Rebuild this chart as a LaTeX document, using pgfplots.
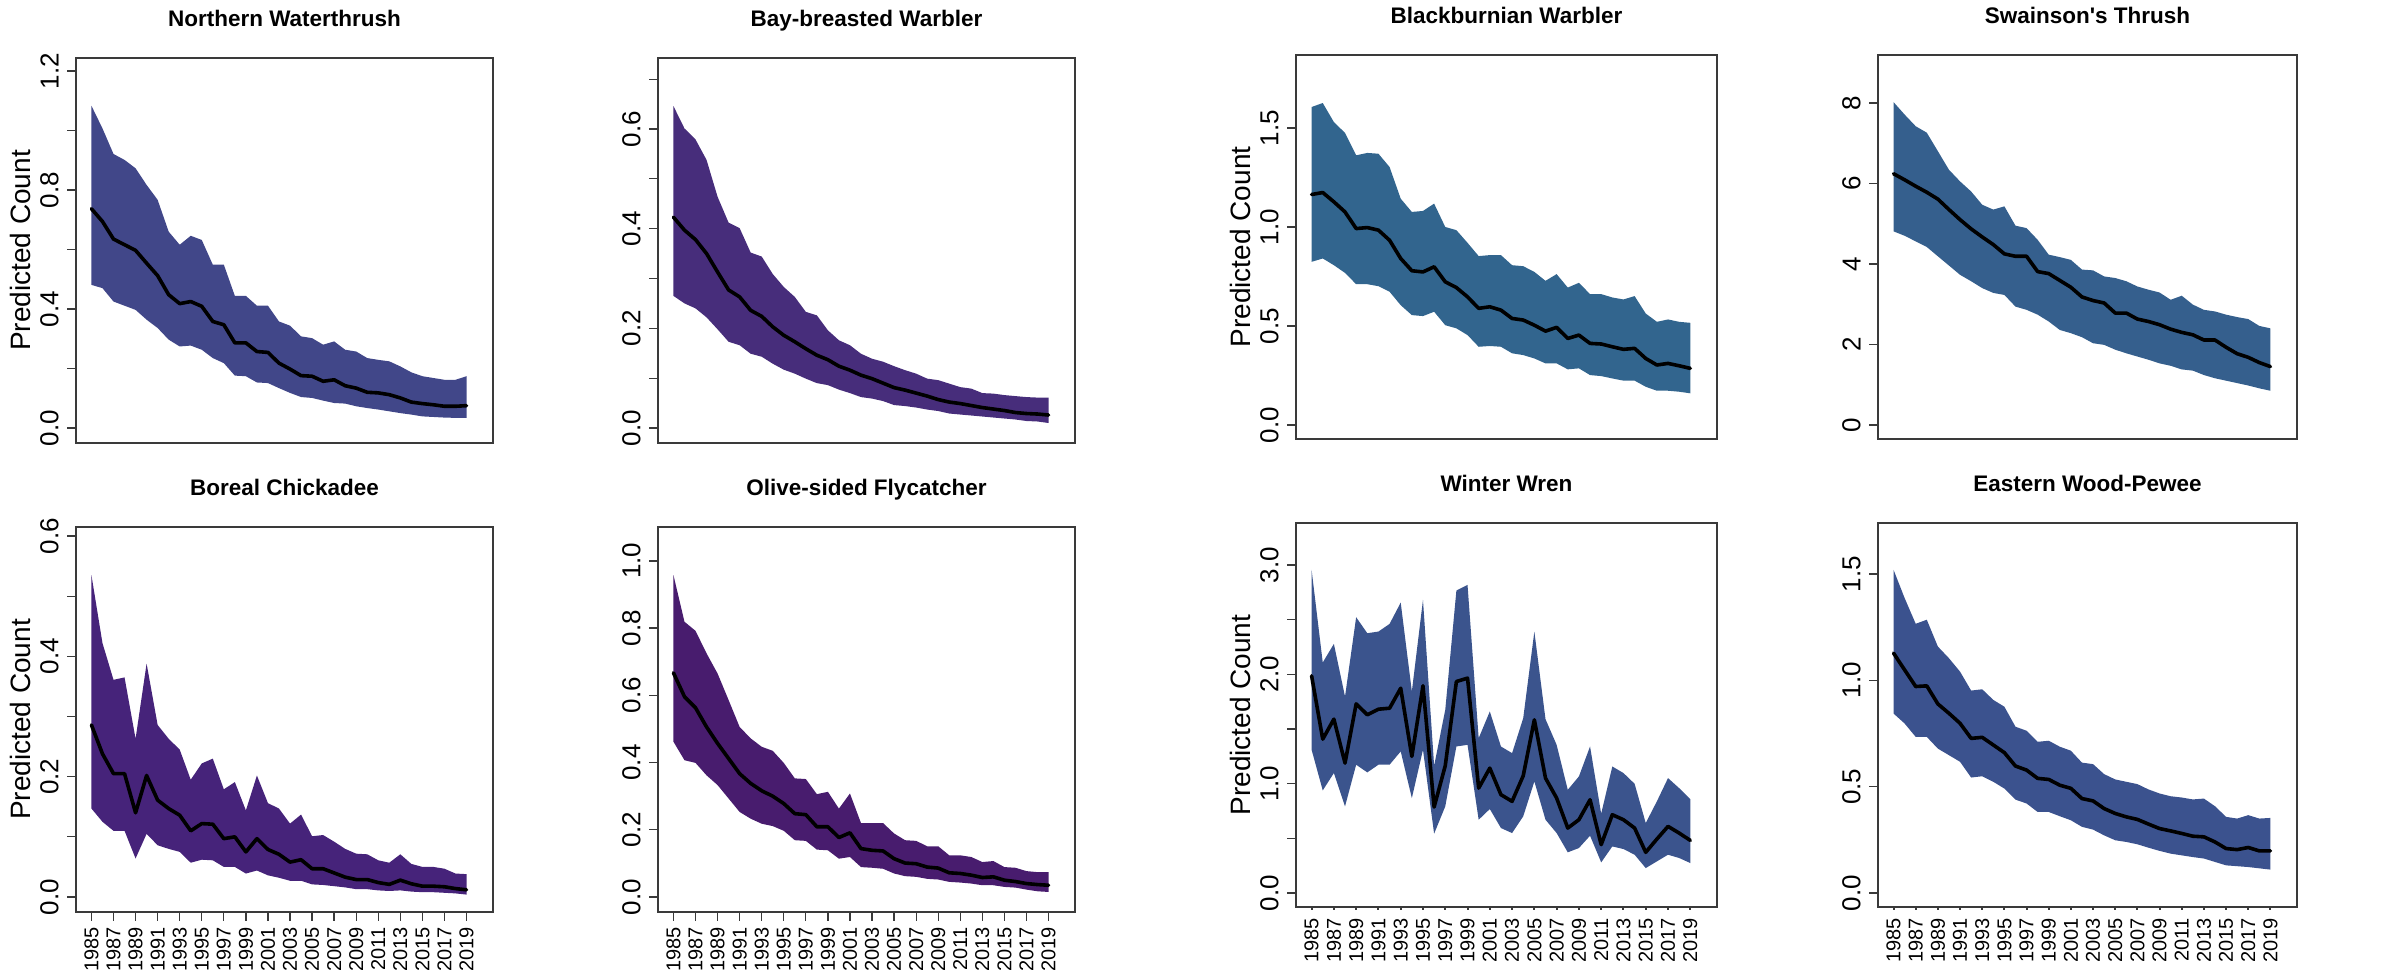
\documentclass[border=0pt]{standalone}
\usepackage{pgfplots}
\pgfplotsset{compat=1.18}
\usepackage{pgfplotstable}
\usepgfplotslibrary{fillbetween}
\usepackage{fontspec}
\setmainfont{Liberation Sans}

\definecolor{c1}{HTML}{414789}
\definecolor{c2}{HTML}{472D7B}
\definecolor{c3}{HTML}{32658E}
\definecolor{c4}{HTML}{355F8D}
\definecolor{c5}{HTML}{46237A}
\definecolor{c6}{HTML}{481C6E}
\definecolor{c7}{HTML}{3B548D}
\definecolor{c8}{HTML}{3B528E}
\definecolor{frame}{HTML}{3A3A3A}

\pgfplotstableread{
yr m lo hi
1985 0.737 0.481 1.083
1986 0.694 0.470 1.007
1987 0.635 0.425 0.921
1988 0.616 0.411 0.901
1989 0.597 0.397 0.873
1990 0.554 0.364 0.817
1991 0.512 0.336 0.767
1992 0.448 0.297 0.660
1993 0.418 0.274 0.616
1994 0.425 0.277 0.646
1995 0.409 0.263 0.632
1996 0.358 0.235 0.549
1997 0.347 0.218 0.549
1998 0.286 0.176 0.444
1999 0.286 0.174 0.444
2000 0.257 0.153 0.411
2001 0.254 0.151 0.411
2002 0.218 0.134 0.358
2003 0.198 0.118 0.344
2004 0.176 0.104 0.308
2005 0.174 0.101 0.302
2006 0.157 0.092 0.280
2007 0.162 0.084 0.291
2008 0.142 0.082 0.263
2009 0.134 0.073 0.257
2010 0.120 0.067 0.235
2011 0.118 0.062 0.229
2012 0.112 0.056 0.224
2013 0.101 0.050 0.207
2014 0.087 0.045 0.187
2015 0.082 0.039 0.174
2016 0.078 0.037 0.168
2017 0.073 0.035 0.162
2018 0.073 0.034 0.162
2019 0.075 0.034 0.174
}\tabA

\pgfplotstableread{
yr m lo hi
1985 0.423 0.265 0.646
1986 0.397 0.250 0.601
1987 0.378 0.240 0.579
1988 0.350 0.222 0.538
1989 0.313 0.198 0.464
1990 0.277 0.173 0.412
1991 0.263 0.166 0.401
1992 0.236 0.149 0.352
1993 0.224 0.143 0.344
1994 0.203 0.129 0.309
1995 0.186 0.117 0.283
1996 0.173 0.109 0.263
1997 0.159 0.099 0.233
1998 0.146 0.090 0.226
1999 0.137 0.086 0.196
2000 0.124 0.077 0.176
2001 0.116 0.070 0.166
2002 0.106 0.062 0.149
2003 0.099 0.059 0.139
2004 0.090 0.054 0.133
2005 0.081 0.046 0.124
2006 0.076 0.044 0.116
2007 0.070 0.041 0.109
2008 0.064 0.037 0.099
2009 0.057 0.034 0.096
2010 0.052 0.029 0.089
2011 0.049 0.027 0.082
2012 0.045 0.025 0.079
2013 0.041 0.023 0.070
2014 0.038 0.021 0.069
2015 0.035 0.019 0.066
2016 0.031 0.017 0.064
2017 0.029 0.014 0.062
2018 0.028 0.013 0.061
2019 0.026 0.010 0.061
}\tabB

\pgfplotstableread{
yr m lo hi
1985 1.164 0.824 1.606
1986 1.174 0.841 1.626
1987 1.127 0.807 1.530
1988 1.076 0.768 1.475
1989 0.992 0.711 1.362
1990 0.997 0.711 1.374
1991 0.984 0.701 1.370
1992 0.933 0.673 1.303
1993 0.841 0.605 1.143
1994 0.779 0.555 1.076
1995 0.773 0.550 1.081
1996 0.799 0.572 1.118
1997 0.723 0.504 1.000
1998 0.694 0.488 0.984
1999 0.647 0.454 0.920
2000 0.589 0.395 0.853
2001 0.597 0.399 0.858
2002 0.580 0.395 0.858
2003 0.538 0.362 0.807
2004 0.530 0.353 0.802
2005 0.504 0.336 0.773
2006 0.474 0.311 0.728
2007 0.493 0.311 0.762
2008 0.437 0.281 0.694
2009 0.454 0.286 0.718
2010 0.412 0.252 0.661
2011 0.409 0.247 0.661
2012 0.395 0.235 0.644
2013 0.382 0.224 0.634
2014 0.387 0.224 0.651
2015 0.336 0.193 0.563
2016 0.303 0.173 0.521
2017 0.311 0.173 0.533
2018 0.299 0.168 0.521
2019 0.286 0.160 0.516
}\tabC

\pgfplotstableread{
yr m lo hi
1985 6.24 4.81 8.02
1986 6.09 4.70 7.71
1987 5.93 4.56 7.42
1988 5.78 4.42 7.26
1989 5.61 4.19 6.80
1990 5.35 3.96 6.34
1991 5.10 3.73 6.05
1992 4.87 3.57 5.80
1993 4.67 3.40 5.47
1994 4.48 3.28 5.35
1995 4.25 3.23 5.43
1996 4.19 2.94 4.95
1997 4.19 2.86 4.89
1998 3.81 2.74 4.60
1999 3.76 2.57 4.23
2000 3.59 2.36 4.17
2001 3.42 2.28 4.10
2002 3.18 2.18 3.86
2003 3.09 2.03 3.84
2004 3.03 1.99 3.69
2005 2.78 1.87 3.65
2006 2.78 1.78 3.57
2007 2.63 1.70 3.44
2008 2.57 1.62 3.36
2009 2.49 1.53 3.29
2010 2.38 1.47 3.11
2011 2.30 1.38 3.21
2012 2.24 1.35 2.99
2013 2.11 1.24 2.86
2014 2.11 1.16 2.82
2015 1.93 1.10 2.74
2016 1.77 1.04 2.68
2017 1.68 0.98 2.63
2018 1.55 0.91 2.46
2019 1.45 0.85 2.40
}\tabD

\pgfplotstableread{
yr m lo hi
1985 0.286 0.147 0.535
1986 0.238 0.125 0.422
1987 0.205 0.110 0.361
1988 0.205 0.110 0.365
1989 0.140 0.064 0.263
1990 0.202 0.105 0.388
1991 0.161 0.086 0.286
1992 0.147 0.080 0.263
1993 0.136 0.075 0.245
1994 0.110 0.057 0.195
1995 0.122 0.062 0.222
1996 0.121 0.061 0.230
1997 0.097 0.050 0.179
1998 0.100 0.050 0.191
1999 0.075 0.039 0.144
2000 0.097 0.044 0.202
2001 0.079 0.036 0.156
2002 0.071 0.032 0.147
2003 0.058 0.027 0.122
2004 0.062 0.027 0.137
2005 0.047 0.021 0.101
2006 0.047 0.020 0.103
2007 0.040 0.018 0.092
2008 0.033 0.016 0.080
2009 0.029 0.013 0.072
2010 0.029 0.013 0.071
2011 0.024 0.011 0.061
2012 0.021 0.010 0.057
2013 0.028 0.011 0.071
2014 0.022 0.009 0.055
2015 0.018 0.008 0.050
2016 0.018 0.008 0.050
2017 0.017 0.007 0.047
2018 0.014 0.006 0.039
2019 0.012 0.004 0.038
}\tabE

\pgfplotstableread{
yr m lo hi
1985 0.667 0.462 0.958
1986 0.596 0.407 0.819
1987 0.563 0.399 0.792
1988 0.506 0.362 0.725
1989 0.457 0.333 0.665
1990 0.412 0.293 0.586
1991 0.367 0.253 0.506
1992 0.338 0.233 0.472
1993 0.316 0.218 0.447
1994 0.300 0.211 0.435
1995 0.278 0.197 0.399
1996 0.248 0.169 0.353
1997 0.245 0.167 0.351
1998 0.209 0.141 0.306
1999 0.209 0.139 0.313
2000 0.177 0.114 0.263
2001 0.191 0.119 0.308
2002 0.144 0.089 0.220
2003 0.139 0.087 0.220
2004 0.137 0.084 0.220
2005 0.114 0.070 0.189
2006 0.101 0.062 0.169
2007 0.099 0.060 0.167
2008 0.089 0.054 0.151
2009 0.086 0.052 0.151
2010 0.072 0.045 0.124
2011 0.070 0.043 0.124
2012 0.065 0.040 0.119
2013 0.058 0.035 0.104
2014 0.060 0.035 0.107
2015 0.050 0.030 0.089
2016 0.046 0.028 0.087
2017 0.040 0.022 0.077
2018 0.037 0.017 0.074
2019 0.035 0.015 0.074
}\tabF

\pgfplotstableread{
yr m lo hi
1985 1.986 1.310 2.955
1986 1.407 0.938 2.108
1987 1.590 1.097 2.278
1988 1.188 0.792 1.797
1989 1.730 1.173 2.522
1990 1.630 1.103 2.376
1991 1.681 1.173 2.391
1992 1.690 1.173 2.461
1993 1.873 1.295 2.656
1994 1.249 0.868 1.843
1995 1.895 1.310 2.680
1996 0.786 0.542 1.164
1997 1.164 0.792 1.675
1998 1.934 1.340 2.766
1999 1.965 1.355 2.818
2000 0.959 0.670 1.416
2001 1.142 0.768 1.660
2002 0.899 0.594 1.340
2003 0.838 0.548 1.279
2004 1.072 0.701 1.599
2005 1.584 1.020 2.391
2006 1.051 0.670 1.590
2007 0.868 0.548 1.355
2008 0.594 0.372 0.944
2009 0.670 0.411 1.066
2010 0.853 0.524 1.340
2011 0.442 0.280 0.725
2012 0.716 0.426 1.157
2013 0.670 0.402 1.097
2014 0.594 0.350 0.999
2015 0.372 0.228 0.640
2016 0.493 0.289 0.838
2017 0.609 0.350 1.051
2018 0.548 0.320 0.959
2019 0.481 0.274 0.859
}\tabG

\pgfplotstableread{
yr m lo hi
1985 1.128 0.844 1.520
1986 1.049 0.797 1.387
1987 0.971 0.734 1.266
1988 0.974 0.734 1.285
1989 0.889 0.679 1.159
1990 0.845 0.648 1.104
1991 0.798 0.617 1.041
1992 0.727 0.543 0.952
1993 0.732 0.549 0.958
1994 0.696 0.523 0.908
1995 0.660 0.491 0.876
1996 0.597 0.439 0.782
1997 0.578 0.421 0.763
1998 0.539 0.381 0.711
1999 0.534 0.381 0.716
2000 0.507 0.361 0.688
2001 0.492 0.342 0.669
2002 0.444 0.311 0.613
2003 0.433 0.298 0.606
2004 0.397 0.271 0.559
2005 0.374 0.248 0.534
2006 0.358 0.240 0.523
2007 0.346 0.229 0.512
2008 0.324 0.213 0.487
2009 0.303 0.198 0.468
2010 0.292 0.185 0.455
2011 0.280 0.177 0.449
2012 0.267 0.169 0.440
2013 0.264 0.162 0.444
2014 0.240 0.146 0.408
2015 0.209 0.130 0.358
2016 0.204 0.126 0.350
2017 0.214 0.122 0.366
2018 0.198 0.116 0.350
2019 0.198 0.110 0.353
}\tabH

\pgfplotsset{
  panel/.style={
    scale only axis,
    xmin=1983.6, xmax=2021.4,
    axis line style={draw=frame, line width=0.65pt},
    tick style={draw=frame, line width=0.65pt},
    tick align=outside,
    major tick length=4.5pt,
    xtick pos=lower, ytick pos=left,
    minor tick num=0,
    xtick=\empty,
    yticklabel style={rotate=90, anchor=south, inner sep=0pt, font=\fontsize{13}{15}\selectfont},
    yticklabel shift=4pt,
    title style={at={(axis description cs:0.5,1)}, anchor=base, yshift=9.5pt, font=\bfseries\fontsize{11.25}{13}\selectfont},
  },
  ylab/.style={
    ylabel={Predicted Count},
    ylabel style={at={(axis description cs:-0.132,0.5)}, anchor=center, inner sep=0pt, font=\fontsize{14}{16}\selectfont},
  },
  years/.style={
    xtick={1985,1987,...,2019},
    xticklabels={1985,1987,1989,1991,1993,1995,1997,1999,2001,2003,2005,2007,2009,2011,2013,2015,2017,2019},
    xticklabel style={rotate=90, anchor=east, inner sep=0pt, font=\fontsize{10}{12}\selectfont},
    xticklabel shift=3pt,
  },
  dotticks/.style={
    xtick style={draw=none},
    xticklabel shift=1pt,
    extra x ticks={1985,1987,...,2019},
    extra x tick labels={},
    extra x tick style={major tick length=1.5pt, xtick style={draw=frame, line width=1pt}},
  },
  band/.style={draw=none, forget plot},
  mean/.style={black, line width=1.8pt, line join=round, line cap=round},
}

\begin{document}
\begin{tikzpicture}

% Panel 1
\begin{axis}[panel, ylab, at={(38pt,267pt)}, anchor=south west, width=208.5pt, height=192.5pt,
  ymin=-0.0504, ymax=1.2437, ytick={0,0.2,...,1.2}, yticklabels={0.0,{},0.4,{},0.8,{},1.2},
  title={Northern Waterthrush}]
\addplot[band, name path=u] table[x=yr,y=hi]{\tabA};
\addplot[band, name path=l] table[x=yr,y=lo]{\tabA};
\addplot[fill=c1, draw=none] fill between[of=u and l];
\addplot[mean] table[x=yr,y=m]{\tabA};
\end{axis}

% Panel 2
\begin{axis}[panel, at={(329pt,267pt)}, anchor=south west, width=208.5pt, height=192.5pt,
  ymin=-0.0301, ymax=0.7425, ytick={0,0.1,0.2,0.3,0.4,0.5,0.6,0.7}, yticklabels={0.0,{},0.2,{},0.4,{},0.6,{}},
  title={Bay-breasted Warbler}]
\addplot[band, name path=u] table[x=yr,y=hi]{\tabB};
\addplot[band, name path=l] table[x=yr,y=lo]{\tabB};
\addplot[fill=c2, draw=none] fill between[of=u and l];
\addplot[mean] table[x=yr,y=m]{\tabB};
\end{axis}

% Panel 3
\begin{axis}[panel, ylab, at={(648pt,269pt)}, anchor=south west, width=210.5pt, height=192pt,
  ymin=-0.0707, ymax=1.8687, ytick={0,0.5,1.0,1.5}, yticklabels={0.0,0.5,1.0,1.5},
  title={Blackburnian Warbler}]
\addplot[band, name path=u] table[x=yr,y=hi]{\tabC};
\addplot[band, name path=l] table[x=yr,y=lo]{\tabC};
\addplot[fill=c3, draw=none] fill between[of=u and l];
\addplot[mean] table[x=yr,y=m]{\tabC};
\end{axis}

% Panel 4
\begin{axis}[panel, at={(939pt,269pt)}, anchor=south west, width=209.5pt, height=192pt,
  ymin=-0.348, ymax=9.19, ytick={0,2,4,6,8}, yticklabels={0,2,4,6,8},
  title={Swainson\textquotesingle s Thrush}]
\addplot[band, name path=u] table[x=yr,y=hi]{\tabD};
\addplot[band, name path=l] table[x=yr,y=lo]{\tabD};
\addplot[fill=c4, draw=none] fill between[of=u and l];
\addplot[mean] table[x=yr,y=m]{\tabD};
\end{axis}

% Panel 5
\begin{axis}[panel, ylab, years, at={(38pt,32.5pt)}, anchor=south west, width=208.5pt, height=192.5pt,
  ymin=-0.0249, ymax=0.615, ytick={0,0.1,0.2,0.3,0.4,0.5,0.6}, yticklabels={0.0,{},0.2,{},0.4,{},0.6},
  title={Boreal Chickadee}]
\addplot[band, name path=u] table[x=yr,y=hi]{\tabE};
\addplot[band, name path=l] table[x=yr,y=lo]{\tabE};
\addplot[fill=c5, draw=none] fill between[of=u and l];
\addplot[mean] table[x=yr,y=m]{\tabE};
\end{axis}

% Panel 6
\begin{axis}[panel, years, at={(329pt,32.5pt)}, anchor=south west, width=208.5pt, height=192.5pt,
  ymin=-0.0446, ymax=1.101, ytick={0,0.2,0.4,0.6,0.8,1.0}, yticklabels={0.0,0.2,0.4,0.6,0.8,1.0},
  title={Olive-sided Flycatcher}]
\addplot[band, name path=u] table[x=yr,y=hi]{\tabF};
\addplot[band, name path=l] table[x=yr,y=lo]{\tabF};
\addplot[fill=c6, draw=none] fill between[of=u and l];
\addplot[mean] table[x=yr,y=m]{\tabF};
\end{axis}

% Panel 7
\begin{axis}[panel, ylab, years, dotticks, at={(648pt,35pt)}, anchor=south west, width=210.5pt, height=192pt,
  ymin=-0.128, ymax=3.384, ytick={0,0.5,1.0,1.5,2.0,2.5,3.0}, yticklabels={0.0,{},1.0,{},2.0,{},3.0},
  title={Winter Wren}]
\addplot[band, name path=u] table[x=yr,y=hi]{\tabG};
\addplot[band, name path=l] table[x=yr,y=lo]{\tabG};
\addplot[fill=c7, draw=none] fill between[of=u and l];
\addplot[mean] table[x=yr,y=m]{\tabG};
\end{axis}

% Panel 8
\begin{axis}[panel, years, dotticks, at={(939pt,35pt)}, anchor=south west, width=209.5pt, height=192pt,
  ymin=-0.0658, ymax=1.740, ytick={0,0.5,1.0,1.5}, yticklabels={0.0,0.5,1.0,1.5},
  title={Eastern Wood-Pewee}]
\addplot[band, name path=u] table[x=yr,y=hi]{\tabH};
\addplot[band, name path=l] table[x=yr,y=lo]{\tabH};
\addplot[fill=c8, draw=none] fill between[of=u and l];
\addplot[mean] table[x=yr,y=m]{\tabH};
\end{axis}

\pgfresetboundingbox
\useasboundingbox (0,0) rectangle (1193.5pt,488.5pt);
\end{tikzpicture}
\end{document}
